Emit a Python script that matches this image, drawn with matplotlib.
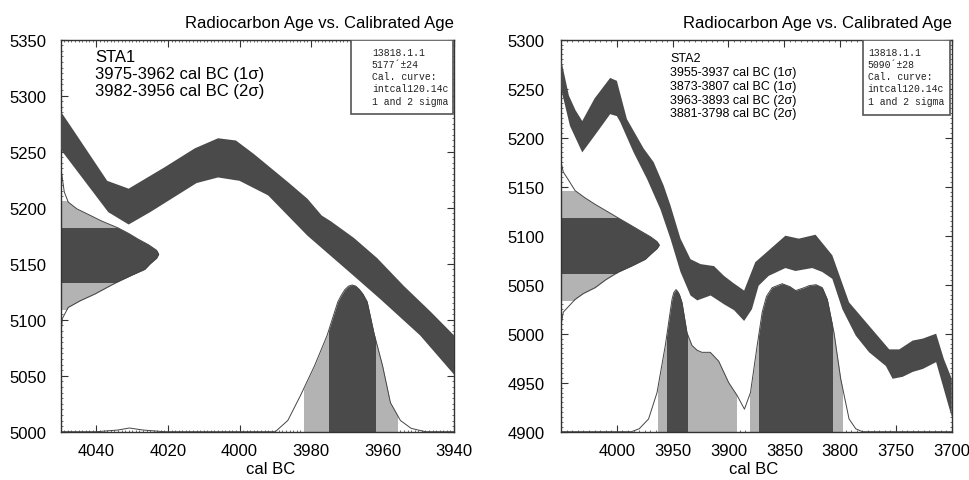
import numpy as np
import matplotlib
matplotlib.use("Agg")
import matplotlib.pyplot as plt
from matplotlib.patches import Rectangle
from matplotlib.ticker import MultipleLocator

plt.rcParams['font.family'] = ['Liberation Sans', 'DejaVu Sans']

DARK = '#4a4a4a'
LIGHT = '#b3b3b3'
EDGE = '#444444'

# ---------------- STA1 ----------------
# calibration curve band (upper / lower edge)
band1_up_x = [4050, 4046, 4037, 4031, 4021, 4012.5, 4006, 4001, 3996, 3986.5, 3981, 3977, 3974.5,
              3968, 3961.5, 3954, 3946.5, 3940]
band1_up_y = [5286, 5267, 5224, 5217, 5236, 5253, 5262, 5260, 5248, 5223, 5208, 5193, 5188,
              5173, 5155, 5130, 5107, 5086]
band1_lo_x = [4050, 4036.7, 4031, 4025, 4012, 4006, 4000, 3992, 3981, 3974.5, 3968, 3960.5, 3949.5, 3940]
band1_lo_y = [5252, 5196, 5185, 5196, 5222, 5227, 5224, 5211, 5175, 5157, 5139, 5118, 5086, 5051]

# calibrated probability (bottom), height above 5000
prob1_x = [4050, 4040, 4034, 4030.8, 4027, 4021, 3990, 3986.5, 3983, 3979, 3975.5, 3972.5, 3971.5,
           3970.5, 3969.5, 3968.5, 3967.5, 3966.5, 3965.5, 3964.3, 3962.4, 3960, 3957.8, 3955,
           3952, 3948, 3940]
prob1_h = [0, 0, 1.5, 3.3, 1.5, 0, 0, 10, 32, 59, 86, 116, 122,
           127, 130, 131, 130, 127, 123, 116, 88, 59, 26, 10,
           3, 0, 0]

# radiocarbon age distribution (left), width in years from 4050
age1_y = [5245, 5232, 5214, 5205, 5199, 5194, 5188, 5182, 5177, 5172, 5167, 5162, 5158.5, 5155,
          5150, 5145, 5140, 5134, 5128, 5123, 5117, 5111, 5101, 5085]
age1_w = [0, 0.2, 1, 2.1, 4.5, 7.7, 11.5, 16, 19, 21.6, 24.5, 26.8, 27.4, 26.8,
          25, 23.5, 20, 16, 12.5, 9.6, 5.5, 2.1, 0.45, 0]

range1_1s = [(3975, 3962)]
range1_2s = [(3982, 3956)]
age1_1s = (5134, 5182)
age1_2s = (5110, 5206)

text1 = ["STA1", "3975-3962 cal BC (1σ)", "3982-3956 cal BC (2σ)"]
info1 = ["13818.1.1", "5177´±24", "Cal. curve:", "intcal120.14c", "1 and 2 sigma"]

# ---------------- STA2 ----------------
band2_up_x = [4050, 4043, 4037, 4031, 4020, 4006, 4000, 3991, 3976, 3967, 3958, 3952, 3943, 3934,
              3925, 3913, 3904, 3896, 3886, 3876, 3864, 3849, 3837, 3822, 3807, 3792, 3777, 3756,
              3747, 3735, 3726, 3714, 3707, 3700]
band2_up_y = [5280, 5243, 5228, 5217, 5240, 5261, 5258, 5219, 5189, 5175, 5151, 5131, 5097, 5076,
              5071, 5069, 5059, 5052, 5044, 5073, 5085, 5100, 5097, 5101, 5080, 5032, 5012, 4984,
              4984, 4993, 4995, 5000, 4974, 4954]
band2_lo_x = [4050, 4042, 4031, 4020, 4006, 4000, 3997, 3985, 3973, 3961, 3952, 3943, 3934, 3928,
              3916, 3904, 3895, 3886, 3879, 3873, 3864, 3849, 3840, 3825, 3816, 3807, 3798, 3786,
              3774, 3759, 3753, 3744, 3735, 3726, 3714, 3700]
band2_lo_y = [5250, 5212, 5185, 5202, 5224, 5222, 5216, 5185, 5158, 5127, 5097, 5063, 5039, 5034,
              5039, 5030, 5024, 5013, 5025, 5049, 5059, 5067, 5064, 5067, 5063, 5056, 5025, 4998,
              4981, 4967, 4954, 4956, 4961, 4964, 4971, 4915]

prob2_x = [4050, 3987, 3980, 3971.6, 3964, 3956.6, 3950.6, 3949, 3947, 3945.5, 3944, 3941.7, 3937.2,
           3932.7, 3928, 3923.7, 3916.3, 3908.8, 3899.8, 3892.3, 3885.7, 3880.3, 3874.3, 3869.8,
           3866, 3860.9, 3851.9, 3845, 3839.9, 3832, 3827.9, 3821.6, 3816, 3811.5, 3805.5,
           3799.5, 3792, 3786, 3780, 3700]
prob2_h = [0, 0, 3, 13, 40, 88, 135, 142, 145, 143, 140, 132, 101,
           88, 83, 81, 81, 72, 50, 37, 23, 40, 88, 122,
           138, 147, 151, 148, 144, 147, 149, 150, 147, 135, 101,
           54, 13, 3, 0, 0]

age2_y = [5175, 5165, 5158, 5146, 5139, 5132, 5125, 5118, 5111, 5104, 5099, 5094, 5090.5, 5087,
          5082, 5076, 5069, 5063, 5055, 5047, 5041, 5035, 5022, 5012, 5005]
age2_w = [0, 2, 6, 12.6, 21, 30.5, 41, 51.4, 62, 72.4, 80, 86, 88, 86,
          81, 75.4, 63, 51.4, 40, 30.5, 20, 12.6, 2, 0.5, 0]

range2_1s = [(3955, 3937), (3873, 3807)]
range2_2s = [(3963, 3893), (3881, 3798)]
age2_1s = (5062, 5118)
age2_2s = (5034, 5146)

text2 = ["STA2", "3955-3937 cal BC (1σ)", "3873-3807 cal BC (1σ)",
         "3963-3893 cal BC (2σ)", "3881-3798 cal BC (2σ)"]
info2 = ["13818.1.1", "5090´±28", "Cal. curve:", "intcal120.14c", "1 and 2 sigma"]


def draw_panel(ax, xlim, ylim, band_up, band_lo, prob_x, prob_h, age_y, age_w,
               r1s, r2s, a1s, a2s):
    ax.set_xlim(*xlim)
    ax.set_ylim(*ylim)
    x0, base = xlim[0], ylim[0]

    # bottom distribution
    px = np.array(prob_x)
    ph = base + np.array(prob_h)
    for ranges, col in ((r2s, LIGHT), (r1s, DARK)):
        for a, b in ranges:
            poly = ax.fill_between(px, base, ph, color=col, lw=0, zorder=2)
            poly.set_clip_path(Rectangle((min(a, b), base), abs(a - b), 1000,
                                         transform=ax.transData))
    ax.plot(px, ph, color=EDGE, lw=0.7, zorder=2.5)

    # left distribution
    ay = np.array(age_y)
    ax_ = x0 - np.array(age_w)
    for (lo, hi), col in ((a2s, LIGHT), (a1s, DARK)):
        poly = ax.fill_betweenx(ay, x0, ax_, color=col, lw=0, zorder=2)
        poly.set_clip_path(Rectangle((min(xlim) - 10, lo), 1000, hi - lo,
                                     transform=ax.transData))
    ax.plot(ax_, ay, color=EDGE, lw=0.7, zorder=2.5)

    # calibration curve
    xs = list(band_up[0]) + list(band_lo[0])[::-1]
    ys = list(band_up[1]) + list(band_lo[1])[::-1]
    ax.fill(xs, ys, color=DARK, lw=0, zorder=3)

    ax.set_title('Radiocarbon Age vs. Calibrated Age', loc='right', fontsize=12, pad=9)
    ax.set_xlabel('cal BC', fontsize=12)
    ax.tick_params(which='both', direction='in', top=True, right=True, colors='#333333')
    ax.tick_params(which='major', length=5, width=0.8, labelsize=12, labelcolor='black')
    ax.tick_params(axis='x', which='major', pad=8)
    ax.tick_params(which='minor', length=1.6, width=0.5)
    for s in ax.spines.values():
        s.set_color('#333333')
        s.set_linewidth(1.0)


def draw_info(ax, lines, x0, y0, tx):
    ax.add_patch(Rectangle((x0, y0), 0.9965 - x0, 1 - y0, transform=ax.transAxes,
                           facecolor='white', edgecolor='#555555', lw=1.2, zorder=5))
    ax.text(tx, 0.982, "\n".join(lines), transform=ax.transAxes, va='top', ha='left',
            family='Liberation Mono', fontsize=7, linespacing=1.28, color='#222222', zorder=6)


fig = plt.figure(figsize=(9.7, 4.81), dpi=100)
ax1 = fig.add_axes([0.0626, 0.1004, 0.4055, 0.815])
ax2 = fig.add_axes([0.5784, 0.1004, 0.4028, 0.815])

draw_panel(ax1, (4050, 3940), (5000, 5350), (band1_up_x, band1_up_y), (band1_lo_x, band1_lo_y),
           prob1_x, prob1_h, age1_y, age1_w, range1_1s, range1_2s, age1_1s, age1_2s)
ax1.set_xticks(np.arange(4040, 3939, -20))
ax1.set_yticks(np.arange(5000, 5351, 50))
ax1.xaxis.set_minor_locator(MultipleLocator(1))
ax1.yaxis.set_minor_locator(MultipleLocator(5))
ax1.tick_params(axis='y', which='major', pad=10)
ax1.xaxis.set_label_coords(0.534, -0.074)
ax1.text(0.087, 0.976, "\n".join(text1), transform=ax1.transAxes, va='top', ha='left',
         fontsize=12, linespacing=1.18, zorder=6)
draw_info(ax1, info1, 0.739, 0.81, 0.791)

draw_panel(ax2, (4050, 3700), (4900, 5300), (band2_up_x, band2_up_y), (band2_lo_x, band2_lo_y),
           prob2_x, prob2_h, age2_y, age2_w, range2_1s, range2_2s, age2_1s, age2_2s)
ax2.set_xticks(np.arange(4000, 3699, -50))
ax2.set_yticks(np.arange(4900, 5301, 50))
ax2.xaxis.set_minor_locator(MultipleLocator(5))
ax2.yaxis.set_minor_locator(MultipleLocator(5))
ax2.tick_params(axis='y', which='major', pad=12)
ax2.xaxis.set_label_coords(0.492, -0.074)
ax2.text(0.279, 0.968, "\n".join(text2), transform=ax2.transAxes, va='top', ha='left',
         fontsize=9, linespacing=1.2, zorder=6)
draw_info(ax2, info2, 0.772, 0.808, 0.785)

fig.savefig('out.png', dpi=100)
